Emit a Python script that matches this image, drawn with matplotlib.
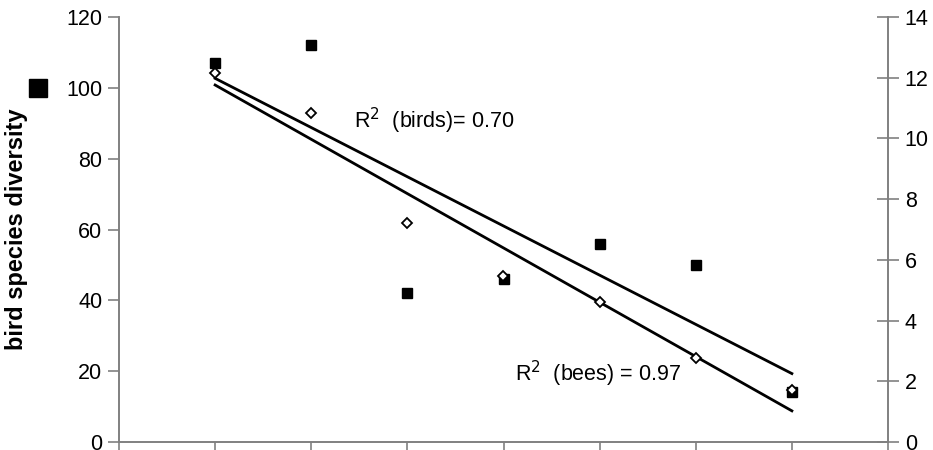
import numpy as np
import matplotlib
matplotlib.use("Agg")
import matplotlib.pyplot as plt
from matplotlib.lines import Line2D

plt.rcParams['font.family'] = ['Liberation Sans', 'DejaVu Sans']

sites = [1, 2, 3, 4, 5, 6, 7]
birds = [107, 112, 42, 46, 56, 50, 14]
bees = [12.15, 10.84, 7.21, 5.47, 4.61, 2.77, 1.7]
left_ticks = [0, 20, 40, 60, 80, 100, 120]
right_ticks = [0, 2, 4, 6, 8, 10, 12, 14]
label_birds = "R$^2$  (birds)= 0.70"
label_bees = "R$^2$  (bees) = 0.97"

fig = plt.figure(figsize=(9.33, 4.5), dpi=100)
ax = fig.add_axes([119/933, 8/450, (888-119)/933, (442-17)/450])
ax2 = ax.twinx()

gray = '#808080'
x = np.array(sites)

# bees on right axis
ax2.plot(sites, bees, linestyle='none', marker='D', ms=5, mfc='white', mec='black', mew=1.3, zorder=3)
cb = np.polyfit(x, bees, 1)
ax2.plot([x[0], x[-1]], np.polyval(cb, [x[0], x[-1]]), color='black', lw=2.0, zorder=2)

# birds on left axis
ax.plot(sites, birds, linestyle='none', marker='s', ms=7, color='black', zorder=3)
cbd = np.polyfit(x, birds, 1)
ax.plot([x[0], x[-1]], np.polyval(cbd, [x[0], x[-1]]), color='black', lw=2.0, zorder=2)

ax.set_xlim(0, 8)
ax.set_ylim(0, 120)
ax2.set_ylim(0, 14)
ax.set_xticks(range(0, 9))
ax.set_xticklabels([])
ax.set_yticks(left_ticks)
ax2.set_yticks(right_ticks)

for a in (ax, ax2):
    a.spines['top'].set_visible(False)
    for s in a.spines.values():
        s.set_color(gray)
        s.set_linewidth(1.2)
ax.tick_params(axis='y', direction='out', length=8, width=1.2, color=gray, labelsize=15.5, pad=4)
ax.tick_params(axis='x', direction='out', length=8, width=1.2, color=gray)
ax2.tick_params(axis='y', direction='inout', length=16, width=1.2, color=gray, labelsize=15.5, pad=4)

fig.text(17/933, 1 - 229/450, "bird species diversity", fontsize=17, fontweight='bold',
         rotation=90, ha='center', va='center')

ax.text(0.305, (442-121)/425, label_birds, transform=ax.transAxes, fontsize=15.5, va='center', ha='left')
ax.text(0.515, (442-374)/425, label_bees, transform=ax.transAxes, fontsize=15.5, va='center', ha='left')

fig.add_artist(Line2D([38/933], [1-88/450], marker='s', ms=13, color='black', linestyle='none', transform=fig.transFigure))

fig.savefig("out.png", dpi=100)
